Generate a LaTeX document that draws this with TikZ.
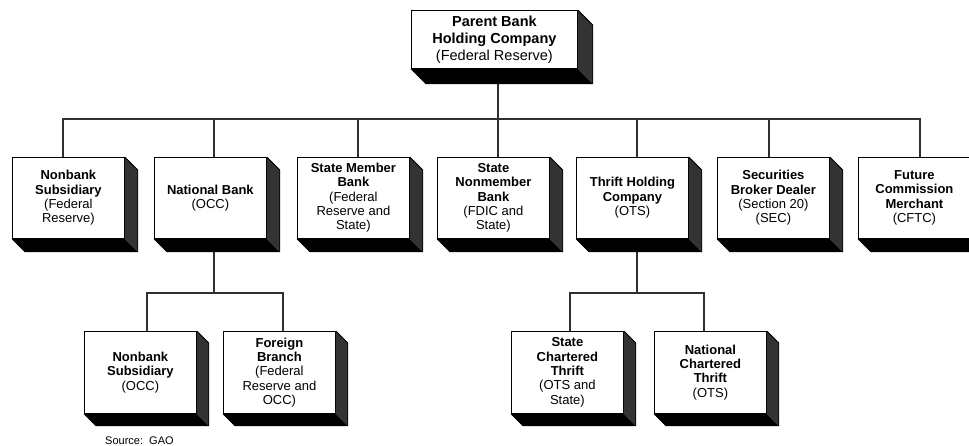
\documentclass[tikz,border=0pt]{standalone}
\usepackage{fontspec}
\setmainfont{Liberation Sans}
\usetikzlibrary{backgrounds}
\definecolor{sidegray}{HTML}{333333}
\definecolor{linegray}{HTML}{303030}
\tikzset{
  orgbox/.style={draw=black, line width=0.8pt, fill=white, rectangle, anchor=north west,
    inner sep=0pt, align=center, minimum width=112pt, minimum height=81pt,
    font=\fontsize{13}{14.3}\selectfont},
  lowbox/.style={orgbox, minimum width=112pt, minimum height=82pt},
  topbox/.style={orgbox, minimum width=166pt, minimum height=58pt,
    font=\fontsize{14.5}{17}\selectfont},
  conn/.style={draw=linegray, line width=1.3pt},
  edge3d/.style={draw=black, line width=0.8pt}
}
\newcommand\extrude[2]{%
  \fill[black] (#1.south west) -- (#1.south east) -- ([shift={(#2,#2)}]#1.south east)
     -- ([shift={(#2,#2)}]#1.south west) -- cycle;
  \fill[sidegray] (#1.north east) -- ([shift={(#2,#2)}]#1.north east)
     -- ([shift={(#2,#2)}]#1.south east) -- (#1.south east) -- cycle;
  \draw[edge3d] (#1.south west) -- ([shift={(#2,#2)}]#1.south west)
     -- ([shift={(#2,#2)}]#1.south east) -- ([shift={(#2,#2)}]#1.north east) -- (#1.north east);
}
\begin{document}
\begin{tikzpicture}[x=1pt,y=-1pt]
\useasboundingbox (0,0) rectangle (969,446);

% top
\node[topbox] (parent) at (411,10) {\textbf{Parent Bank}\\\textbf{Holding Company}\\(Federal Reserve)};
\extrude{parent}{15}

% row 1
\node[orgbox] (n1) at (12,157)  {\textbf{Nonbank}\\\textbf{Subsidiary}\\(Federal\\Reserve)};
\node[orgbox] (n2) at (154,157) {\textbf{National Bank}\\(OCC)};
\node[orgbox] (n3) at (297,157) {\textbf{State Member}\\\textbf{Bank}\\(Federal\\Reserve and\\State)};
\node[orgbox] (n4) at (437,157) {\textbf{State}\\\textbf{Nonmember}\\\textbf{Bank}\\(FDIC and\\State)};
\node[orgbox] (n5) at (576,157) {\textbf{Thrift Holding}\\\textbf{Company}\\(OTS)};
\node[orgbox] (n6) at (717,157) {\textbf{Securities}\\\textbf{Broker Dealer}\\(Section 20)\\(SEC)};
\node[orgbox] (n7) at (858,157) {\textbf{Future}\\\textbf{Commission}\\\textbf{Merchant}\\(CFTC)};
\foreach \n in {n1,n2,n3,n4,n5,n6,n7} {\extrude{\n}{13}}

% row 2
\node[lowbox] (m1) at (84,331)  {\textbf{Nonbank}\\\textbf{Subsidiary}\\(OCC)};
\node[lowbox] (m2) at (223,331) {\textbf{Foreign}\\\textbf{Branch}\\(Federal\\Reserve and\\OCC)};
\node[lowbox] (m3) at (511,331) {\textbf{State}\\\textbf{Chartered}\\\textbf{Thrift}\\(OTS and\\State)};
\node[lowbox] (m4) at (654,331) {\textbf{National}\\\textbf{Chartered}\\\textbf{Thrift}\\(OTS)};
\foreach \n in {m1,m2,m3,m4} {\extrude{\n}{12}}

\node[anchor=base west, font=\fontsize{11}{13}\selectfont, inner sep=0pt] (src) at (105,444) {Source:\ \ GAO};

\begin{scope}[on background layer]
  \fill[white] (0,0) rectangle (969,446);
  \coordinate (bus) at (498,119);
  \draw[conn] (parent.center -| bus) -- (n4.center -| bus);
  \draw[conn] (n1.center -| 63,0) -- (63,119) -- (920,119) -- (n7.center -| 920,0);
  \draw[conn] (n2.center -| 214,0) -- (214,119);
  \draw[conn] (n3.center -| 358,0) -- (358,119);
  \draw[conn] (n5.center -| 637,0) -- (637,119);
  \draw[conn] (n6.center -| 769,0) -- (769,119);
  % national bank children
  \coordinate (nb) at (214,293);
  \draw[conn] (n2.center -| nb) -- (nb);
  \draw[conn] (m1.center -| 147,0) -- (147,293) -- (283,293) -- (m2.center -| 283,0);
  % thrift children
  \coordinate (th) at (637,293);
  \draw[conn] (n5.center -| th) -- (th);
  \draw[conn] (m3.center -| 570,0) -- (570,293) -- (704,293) -- (m4.center -| 704,0);
\end{scope}
\end{tikzpicture}
\end{document}
